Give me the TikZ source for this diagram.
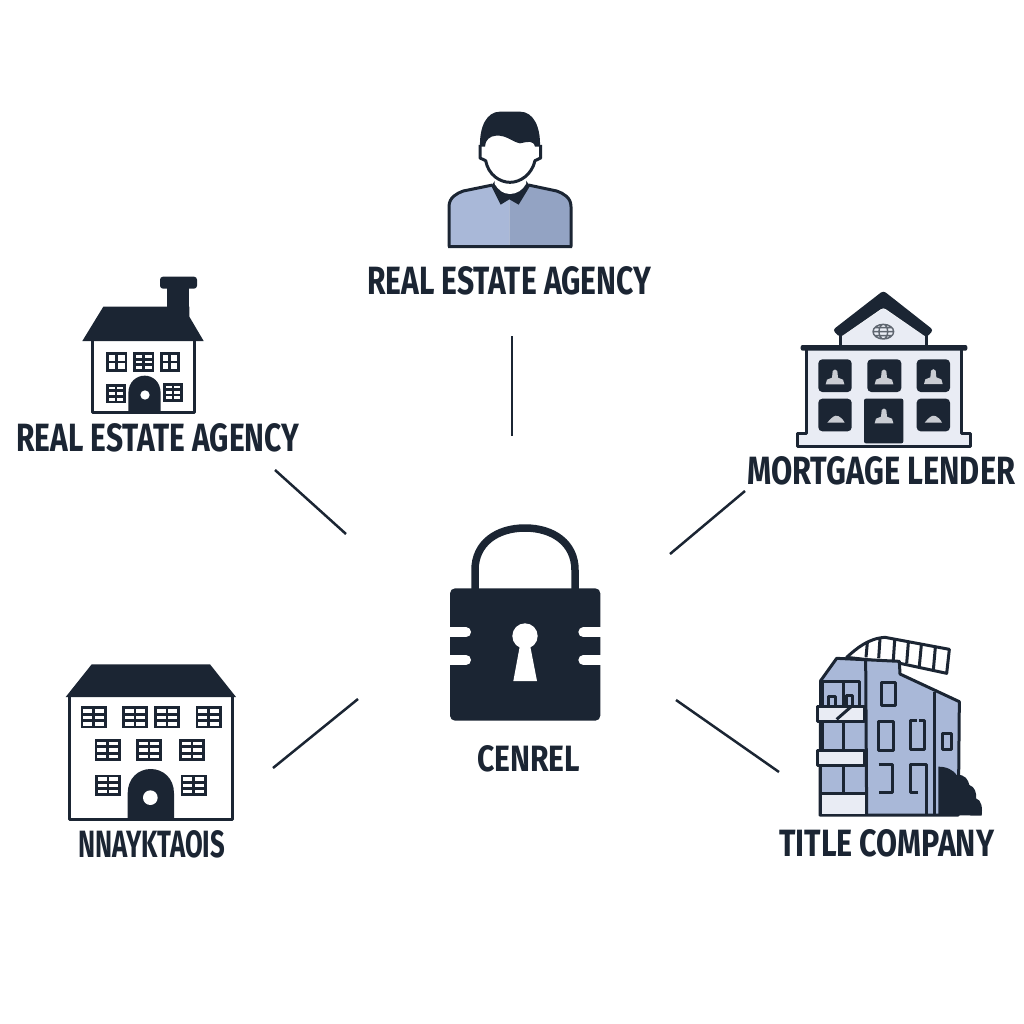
\documentclass[tikz,border=0pt]{standalone}
\usepackage{fontspec}
\setmainfont{Fira Sans}
\definecolor{ink}{HTML}{1B2533}
\definecolor{blueA}{HTML}{A9B8D8}
\definecolor{blueB}{HTML}{93A3C3}
\definecolor{paleW}{HTML}{E9ECF4}
\definecolor{glyph}{HTML}{C9CCD2}
\tikzset{
  link/.style={draw=ink,line width=2.5pt},
  lab/.style={inner sep=0pt,text=ink,anchor=north west,font=\bfseries},
  outl/.style={draw=ink,line width=3pt,line join=round},
  winline/.style={draw=ink,line width=2.8pt},
  notch/.style={draw=white,line width=10pt,line cap=round},
  zoomed/.style={shift={#1},scale=1/3}
}
\newcommand\zwin[5]{%
  \draw[winline] (#1,#2) rectangle ++(#3,#4);
  \draw[winline] ({#1+#3/2},#2) -- ++(0,#4);
  \pgfmathtruncatemacro\rr{#5-1}
  \foreach \r in {1,...,\rr}{\draw[winline] (#1,{#2+#4*\r/#5}) -- ++(#3,0);}
}
\newcommand\zglyph[2]{%
  \fill[glyph] (#1-28,#2) -- (#1+28,#2) -- (#1+24,#2-14) -- (#1+9,#2-20) -- (#1+7,#2-40)
     .. controls (#1+5,#2-46) and (#1-5,#2-46) .. (#1-7,#2-40) -- (#1-9,#2-20) -- (#1-24,#2-14) -- cycle;
}
\newcommand\zcloud[2]{%
  \fill[glyph] (#1-26,#2) .. controls (#1-22,#2-10) and (#1-12,#2-12) .. (#1-8,#2-18)
     .. controls (#1,#2-24) and (#1+14,#2-22) .. (#1+26,#2) -- cycle;
}
\newcommand\lbl[6]{\node[lab] (#1) at (#2,#3) {\resizebox{#4pt}{#5pt}{#6}};}
\begin{document}
\begin{tikzpicture}[x=1pt,y=-1pt]
\useasboundingbox (0,0) rectangle (1024,1024);

% connectors
\coordinate (topA) at (512,336); \coordinate (topB) at (512,436);
\coordinate (leftA) at (275,470); \coordinate (leftB) at (346,534);
\coordinate (rightA) at (745,491); \coordinate (rightB) at (670,554);
\coordinate (lowLA) at (358,699); \coordinate (lowLB) at (273,768);
\coordinate (lowRA) at (676,700); \coordinate (lowRB) at (779,772);
\draw[link] (topA) -- (topB);
\draw[link] (leftA) -- (leftB);
\draw[link] (rightA) -- (rightB);
\draw[link] (lowLA) -- (lowLB);
\draw[link] (lowRA) -- (lowRB);

% labels
\lbl{labTop}{367}{266}{284}{28}{REAL ESTATE AGENCY}
\lbl{labLeft}{16}{423}{283}{28}{REAL ESTATE AGENCY}
\lbl{labRight}{747}{456}{268}{28}{MORTGAGE LENDER}
\lbl{labLow}{78}{830}{147}{27}{NNAYKTAOIS}
\lbl{labTitle}{779}{829}{215}{27}{TITLE COMPANY}
\lbl{labCentre}{477}{745}{103}{26}{CENREL}

% person
\begin{scope}[zoomed={(420,90)}]
  \fill[blueA] (87,468) -- (87,350) .. controls (87,322) and (110,310) .. (130,303) -- (218,285) -- (268,320) -- (268,468) -- cycle;
  \fill[blueB] (453,468) -- (453,350) .. controls (453,322) and (430,310) .. (410,303) -- (325,285) -- (268,320) -- (268,468) -- cycle;
  \draw[outl] (87,470) -- (87,350) .. controls (87,322) and (110,310) .. (130,303) -- (218,285)
     (453,470) -- (453,350) .. controls (453,322) and (430,310) .. (410,303) -- (325,285)
     (84,470) -- (456,470);
  \fill[ink] (214,288) -- (242,344) -- (268,328) -- (296,344) -- (330,288) -- (318,272) -- (225,272) -- cycle;
  \fill[white] (224,268) -- (224,282) .. controls (235,300) and (250,312) .. (270,312) .. controls (290,312) and (308,300) .. (318,282) -- (318,268) -- cycle;
  \fill[white] (180,168) -- (180,204) -- (197,212) .. controls (205,255) and (240,277) .. (270,277)
     .. controls (300,277) and (335,255) .. (345,212) -- (362,204) -- (362,168) -- (345,130) -- (195,130) -- cycle;
  \draw[outl] (180,165) -- (180,204) -- (197,212) .. controls (205,255) and (240,277) .. (270,277)
     .. controls (300,277) and (335,255) .. (345,212) -- (362,204) -- (362,165);
  \fill[ink] (180,170) .. controls (178,110) and (200,65) .. (240,65) -- (300,65)
     .. controls (340,65) and (362,110) .. (360,170) -- (345,170)
     .. controls (340,150) and (325,155) .. (300,160) .. controls (275,155) and (260,135) .. (228,137)
     .. controls (210,138) and (195,150) .. (195,170) -- cycle;
\end{scope}

% small house
\begin{scope}[zoomed={(60,260)}]
  \fill[rounded corners=3pt,ink] (300,50) rectangle (411,86);
  \fill[ink] (322,80) rectangle (388,145);
  \fill[ink,line join=round] (130,140) -- (322,140) -- (388,140) -- (388,170) -- (431,243) -- (67,243) -- cycle;
  \draw[outl] (97,243) -- (97,458) -- (402,458) -- (402,243);
  \zwin{142}{281}{56}{50}{2}
  \zwin{224}{281}{55}{50}{3}
  \zwin{304}{281}{51}{50}{2}
  \zwin{143}{376}{50}{50}{3}
  \zwin{313}{373}{52}{48}{3}
  \fill[ink] (205,458) -- (205,400) .. controls (205,365) and (230,347) .. (254,347) .. controls (278,347) and (302,365) .. (302,400) -- (302,458) -- cycle;
  \fill[white] (255,405) circle (14);
\end{scope}

% mortgage lender
\begin{scope}[zoomed={(780,280)}]
  \fill[paleW] (310,85) -- (438,172) -- (438,198) -- (182,198) -- (182,172) -- cycle;
  \draw[outl] (180,165) -- (180,198) (440,165) -- (440,198);
  \draw[outl,fill=paleW] (78,210) -- (78,460) -- (52,460) -- (52,500) -- (572,500) -- (572,460) -- (545,460) -- (545,210);
  \fill[ink,rounded corners=2pt] (62,195) rectangle (562,212);
  \fill[ink,rounded corners=3pt] (310,32) -- (460,150) -- (440,172) -- (310,82) -- (180,172) -- (158,150) -- cycle;
  \draw[draw=ink!70,line width=1.4pt] (310,155) ellipse (31 and 22)
     (310,155) ellipse (13 and 22) (279,155) -- (341,155) (285,143) -- (335,143) (285,167) -- (335,167);
  \fill[ink,rounded corners=4pt] (115,238) rectangle (215,336);
  \fill[ink,rounded corners=4pt] (262,238) rectangle (364,336);
  \fill[ink,rounded corners=4pt] (410,238) rectangle (510,336);
  \fill[ink,rounded corners=4pt] (115,356) rectangle (215,454);
  \fill[ink,rounded corners=4pt] (410,356) rectangle (510,454);
  \fill[ink,rounded corners=2pt] (252,356) rectangle (370,490);
  \zglyph{165}{313}
  \zglyph{312}{313}
  \zglyph{460}{312}
  \zglyph{312}{430}
  \zcloud{168}{428}
  \zcloud{460}{428}
\end{scope}

% large building
\begin{scope}[zoomed={(50,650)}]
  \fill[ink] (125,43) -- (480,43) -- (558,141) -- (47,141) -- cycle;
  \draw[outl] (58,141) -- (58,508) -- (548,508) -- (548,141);
  \foreach \wx in {96,220,316,441}{\zwin{\wx}{173}{70}{58}{3}}
  \foreach \wx in {138,262,391}{\zwin{\wx}{271}{70}{58}{3}}
  \foreach \wx in {139,396}{\zwin{\wx}{378}{70}{56}{3}}
  \fill[ink] (233,508) -- (233,430) .. controls (233,385) and (265,357) .. (302,357) .. controls (340,357) and (372,385) .. (372,430) -- (372,508) -- cycle;
  \fill[white] (301,443) circle (22);
\end{scope}

% title company
\begin{scope}[zoomed={(790,620)}]
  \draw[outl,fill=white] (170,112) .. controls (200,85) and (235,55) .. (285,52) -- (478,88) -- (470,160) -- (330,130) -- cycle;
  \draw[outl] (228,112) -- (232,68) (266,115) -- (270,55) (310,120) -- (314,60) (350,130) -- (355,68) (388,138) -- (394,75) (430,150) -- (436,82);
  \draw[outl,fill=blueA] (92,182) -- (140,115) -- (328,124) -- (330,162) -- (508,245) -- (505,585) -- (90,585) -- cycle;
  \draw[outl] (227,120) -- (230,585);
  \draw[outl] (434,215) -- (434,585);
  \draw[outl,fill=paleW] (82,258) -- (222,258) -- (222,303) -- (82,303) -- cycle;
  \draw[outl,fill=paleW] (82,390) -- (222,390) -- (222,435) -- (82,435) -- cycle;
  \fill[paleW] (95,522) rectangle (226,582);
  \draw[outl] (92,520) -- (228,520);
  \draw[outl] (96,258) -- (96,185) -- (208,185) -- (208,258) (160,185) -- (160,258);
  \draw[outl] (116,258) -- (116,228) -- (136,228) -- (136,258) (168,258) -- (168,226) -- (186,226) -- (186,258);
  \draw[outl] (140,298) -- (188,256);
  \draw[outl] (96,303) -- (96,390) (160,303) -- (160,390);
  \draw[outl] (92,435) -- (92,585) (160,435) -- (160,520);
  \draw[outl] (274,186) rectangle (316,256);
  \draw[outl] (266,304) rectangle (310,390);
  \draw[outl] (380,302) -- (360,302) -- (360,388) -- (404,388) -- (404,302) -- (388,302);
  \draw[outl] (266,434) -- (308,434) -- (308,516) -- (266,516);
  \draw[outl] (384,518) -- (360,518) -- (360,434) -- (408,434) -- (408,585);
  \draw[outl] (456,341) rectangle (484,388);
  \fill[ink] (445,585) -- (445,440) .. controls (470,440) and (490,450) .. (500,465) .. controls (525,462) and (535,480) .. (538,495) .. controls (555,500) and (560,520) .. (558,535) .. controls (575,540) and (578,565) .. (575,587) -- cycle;
\end{scope}

% lock
\begin{scope}[zoomed={(430,510)}]
  \draw[draw=ink,line width=7.5pt] (135,240) -- (135,180) .. controls (135,100) and (200,54) .. (285,54) .. controls (370,54) and (435,100) .. (435,180) -- (435,240);
  \fill[ink,rounded corners=5pt] (60,235) rectangle (511,632);
  \foreach \ny in {367,450}{
    \draw[notch] (40,\ny) -- (108,\ny);
    \draw[notch] (530,\ny) -- (460,\ny);
  }
  \fill[white] (285,378) circle (38);
  \fill[white] (270,405) -- (300,405) -- (321,513) -- (250,513) -- cycle;
\end{scope}
\end{tikzpicture}
\end{document}
